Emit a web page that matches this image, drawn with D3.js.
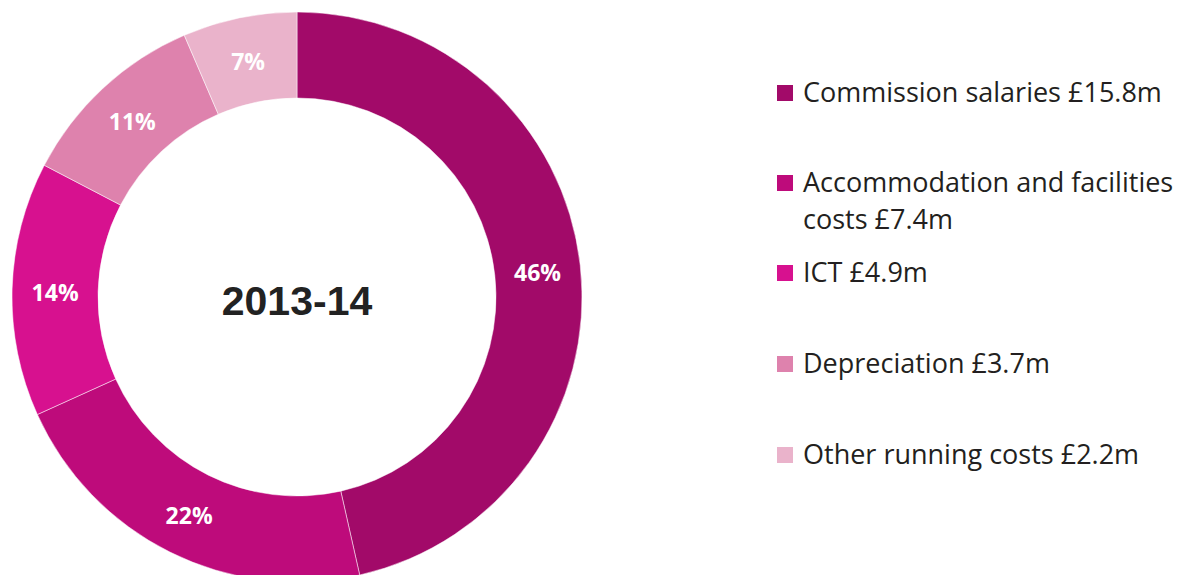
<!DOCTYPE html>
<html>
<head>
<meta charset="utf-8">
<script src="https://cdn.jsdelivr.net/npm/d3@7"></script>
<style>
  html, body { margin: 0; padding: 0; background: #ffffff; }
  svg { display: block; }
</style>
</head>
<body>
<svg id="chart" width="1195" height="575"></svg>
<script>
const categories = ["Commission salaries", "Accommodation and facilities costs", "ICT", "Depreciation", "Other running costs"];
const values = [15.8, 7.4, 4.9, 3.7, 2.2];
const percentLabels = ["46%", "22%", "14%", "11%", "7%"];
const legendLines = [
  ["Commission salaries £15.8m"],
  ["Accommodation and facilities", "costs £7.4m"],
  ["ICT £4.9m"],
  ["Depreciation £3.7m"],
  ["Other running costs £2.2m"]
];
const colors = ["#a20a69", "#be0b7b", "#d7118f", "#de82ad", "#eab3cb"];
const centerTitle = "2013-14";

const svg = d3.select("#chart");
const cx = 297, cy = 297, outerR = 285, innerR = 199;

const data = categories.map((c, i) => ({ name: c, value: values[i], label: percentLabels[i], color: colors[i], lines: legendLines[i] }));

const pie = d3.pie().value(d => d.value).sort(null);
const arc = d3.arc().innerRadius(innerR).outerRadius(outerR);
const arcs = pie(data);

const g = svg.append("g").attr("transform", `translate(${cx},${cy})`);
g.selectAll("path.slice").data(arcs).enter().append("path")
  .attr("class", "slice")
  .attr("d", arc)
  .attr("fill", d => d.data.color)
  .attr("stroke", "#ffffff")
  .attr("stroke-width", 0.5);

g.selectAll("text.pct").data(arcs).enter().append("text")
  .attr("class", "pct")
  .attr("transform", d => `translate(${arc.centroid(d)})`)
  .attr("text-anchor", "middle")
  .attr("dy", "0.45em")
  .attr("font-family", "'Open Sans', sans-serif")
  .attr("font-weight", 700)
  .attr("font-size", 23)
  .attr("fill", "#ffffff")
  .text(d => d.data.label);

g.append("text")
  .attr("text-anchor", "middle")
  .attr("dy", "0.36em")
  .attr("y", 3)
  .attr("font-family", "'Liberation Sans', Arial, sans-serif")
  .attr("font-weight", 700)
  .attr("font-size", 41)
  .attr("fill", "#222222")
  .text(centerTitle);

// Legend
const legendY = [93, 183, 273, 364, 455];
const lineH = 37;
const lg = svg.append("g").attr("class", "legend");
const items = lg.selectAll("g.item").data(data).enter().append("g")
  .attr("class", "item")
  .attr("transform", (d, i) => `translate(777,${legendY[i]})`);
items.append("rect")
  .attr("x", 0).attr("y", -8)
  .attr("width", 16).attr("height", 16)
  .attr("fill", d => d.color);
items.each(function(d) {
  const t = d3.select(this).append("text")
    .attr("x", 26)
    .attr("font-family", "'Open Sans', sans-serif")
    .attr("font-size", 27)
    .attr("fill", "#231f20");
  d.lines.forEach((ln, j) => {
    t.append("tspan").attr("x", 26).attr("y", j * lineH).attr("dy", "0.35em").text(ln);
  });
});
</script>
</body>
</html>
